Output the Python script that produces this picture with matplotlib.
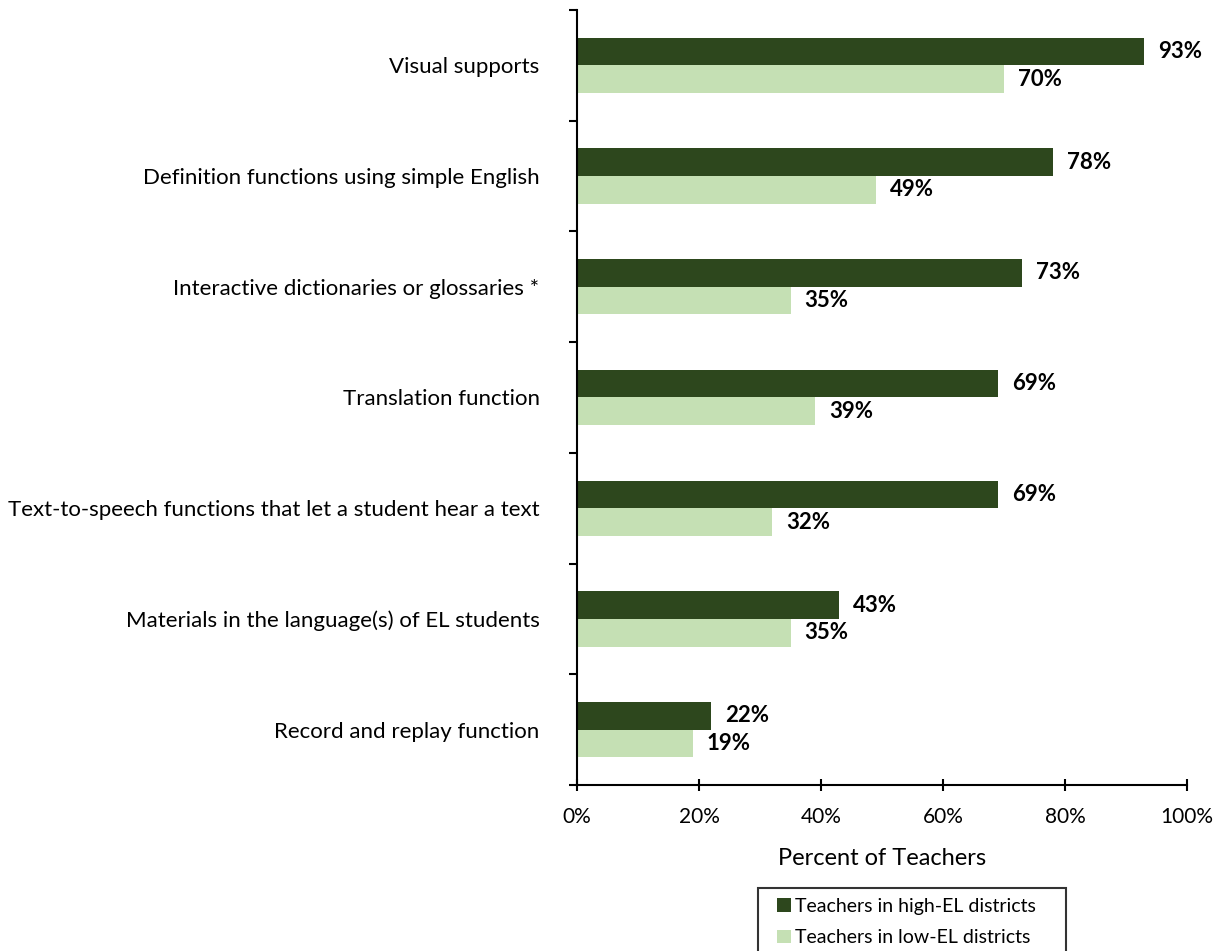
import numpy as np
import matplotlib
matplotlib.use("Agg")
import matplotlib.pyplot as plt
from matplotlib.patches import Rectangle
from matplotlib.legend_handler import HandlerPatch
from matplotlib.ticker import FixedLocator, PercentFormatter

plt.rcParams['font.family'] = ['Lato', 'DejaVu Sans']

categories = ["Visual supports",
              "Definition functions using simple English",
              "Interactive dictionaries or glossaries *",
              "Translation function",
              "Text-to-speech functions that let a student hear a text",
              "Materials in the language(s) of EL students",
              "Record and replay function"]
high_el = [93, 78, 73, 69, 69, 43, 22]
low_el = [70, 49, 35, 39, 32, 35, 19]
series_names = ["Teachers in high-EL districts", "Teachers in low-EL districts"]
dark = "#2d471d"
light = "#c5e0b4"

fig = plt.figure(figsize=(12.21, 9.51), dpi=100)
ax = fig.add_axes([0.4726, 0.1746, 0.4996, 0.8149])

n = len(categories)
pos = np.arange(n)
h = 0.25
b1 = ax.barh(pos - h / 2, high_el, height=h, color=dark, label=series_names[0])
b2 = ax.barh(pos + h / 2, low_el, height=h, color=light, label=series_names[1])

for bars, vals in ((b1, high_el), (b2, low_el)):
    for bar, v in zip(bars, vals):
        ax.text(v + 2.3, bar.get_y() + bar.get_height() / 2, f"{v}%",
                va='center', ha='left', fontsize=16, fontweight='bold')

ax.set_ylim(n - 0.5, -0.5)
ax.set_xlim(0, 100)
ax.set_yticks(pos)
ax.set_yticklabels(categories, fontsize=16)
ax.tick_params(axis='y', which='major', length=0, pad=27)
ax.yaxis.set_minor_locator(FixedLocator(np.arange(-0.5, n, 1)))
ax.tick_params(axis='y', which='minor', length=6, width=1.5, direction='out')

ax.set_xticks(np.arange(0, 101, 20))
ax.xaxis.set_major_formatter(PercentFormatter(decimals=0))
ax.tick_params(axis='x', length=8, width=1.5, direction='inout', labelsize=15,
               pad=12, colors='black')
ax.set_xlabel("Percent of Teachers", fontsize=17, labelpad=15)

for s in ('top', 'right'):
    ax.spines[s].set_visible(False)
for s in ('left', 'bottom'):
    ax.spines[s].set_linewidth(1.5)


# small square sitting at the right end of the handle slot
def square_patch(legend, orig_handle, xdescent, ydescent, width, height, fontsize):
    side = 0.7 * fontsize
    return Rectangle((width - side - xdescent, (height - side) / 2 - ydescent),
                     side, side)


sq = HandlerPatch(patch_func=square_patch)
leg = fig.legend(handles=[b1[0], b2[0]], labels=series_names, loc='upper left',
                 bbox_to_anchor=(0.6208, 0.0, 0.2523, 0.0663), mode='expand',
                 borderaxespad=0, fontsize=14, frameon=True, fancybox=False,
                 edgecolor='black', handlelength=1.2, handleheight=0.7,
                 handletextpad=0.2, borderpad=0.5, labelspacing=0.75,
                 handler_map={Rectangle: sq})
leg.get_frame().set_linewidth(1.5)

fig.savefig("out.png", dpi=100)
